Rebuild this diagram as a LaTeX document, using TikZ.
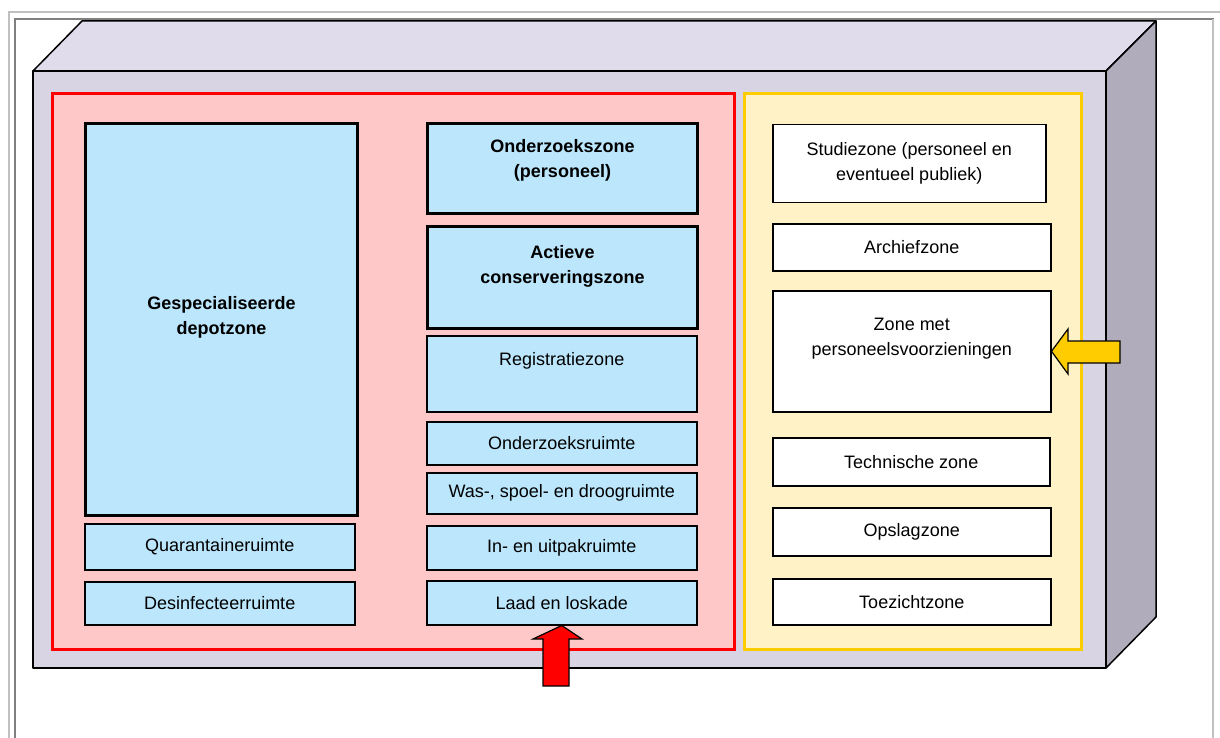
\documentclass[tikz,border=0pt]{standalone}
\usepackage{fontspec}
\setmainfont{Liberation Sans}
\definecolor{frontc}{HTML}{D8D4E4}
\definecolor{topc}{HTML}{E0DCEC}
\definecolor{sidec}{HTML}{B0ACBC}
\definecolor{pinkc}{HTML}{FFC8C8}
\definecolor{yelfill}{HTML}{FFF2C6}
\definecolor{yelline}{HTML}{FFCC00}
\definecolor{bluec}{HTML}{BBE6FC}
\definecolor{lgray}{HTML}{C0C0C0}
\definecolor{dgray}{HTML}{808080}
\begin{document}
\begin{tikzpicture}[x=1pt,y=-1pt,
  font=\fontsize{18}{25}\selectfont,
  face/.style={draw=black,line width=1.5pt,line join=round},
  zonebox/.style={draw=black,line width=1.5pt,fill=bluec,anchor=north west,inner sep=0pt,align=center},
  thickbox/.style={zonebox,line width=3pt,font=\fontsize{18}{25}\selectfont\bfseries},
  whitebox/.style={zonebox,fill=white},
  txt/.style={align=center,inner sep=0pt},
  arrowshape/.style={draw=black,line width=1.2pt,line join=miter}]
\useasboundingbox (0,0) rectangle (1220,738);
% page frame
\draw[lgray,line width=2pt] (9,738) -- (9,12) -- (1220,12);
\draw[dgray,line width=2pt] (15,738) -- (15,19) -- (1214,19);
\draw[lgray,line width=2pt] (1213,19) -- (1213,738);
% cuboid
\filldraw[face,fill=topc] (33,71) -- (82,21) -- (1156,21) -- (1106,71) -- cycle;
\filldraw[face,fill=sidec] (1106,71) -- (1156,21) -- (1156,617) -- (1106,668) -- cycle;
\filldraw[face,fill=frontc] (33,71) rectangle (1106,668);
% zones
\node[draw=red,line width=3pt,fill=pinkc,anchor=north west,minimum width=682pt,minimum height=556pt,inner sep=0pt] (redzone) at (51,92) {};
\node[draw=yelline,line width=3pt,fill=yelfill,anchor=north west,minimum width=337pt,minimum height=556pt,inner sep=0pt] (yelzone) at (743,92) {};
% left column
\node[thickbox,minimum width=272pt,minimum height=392pt] (dep) at (84,122) {};
\node[txt,font=\fontsize{18}{25}\selectfont\bfseries] (deptxt) at ([yshift=2.5pt]dep.center) {Gespecialiseerde\\depotzone};
\node[zonebox,minimum width=270pt,minimum height=46pt] (quar) at (84,523) {Quarantaineruimte};
\node[zonebox,minimum width=270pt,minimum height=43pt] (desinf) at (84,581) {Desinfecteerruimte};
% middle column
\node[thickbox,minimum width=270pt,minimum height=90pt] (ondz) at (426,122) {};
\node[txt,font=\fontsize{18}{25}\selectfont\bfseries] (ondztxt) at ([yshift=8.5pt]ondz.center) {Onderzoekszone\\(personeel)};
\node[thickbox,minimum width=270pt,minimum height=102pt] (act) at (426,225) {};
\node[txt,font=\fontsize{18}{25}\selectfont\bfseries] (acttxt) at ([yshift=11pt]act.center) {Actieve\\conserveringszone};
\node[zonebox,minimum width=270pt,minimum height=76pt] (reg) at (426,335) {};
\node[txt] (regtxt) at ([yshift=13pt]reg.center) {Registratiezone};
\node[zonebox,minimum width=270pt,minimum height=43pt] (ondr) at (426,421) {Onderzoeksruimte};
\node[zonebox,minimum width=270pt,minimum height=41pt] (was) at (426,472) {Was-, spoel- en droogruimte};
\node[zonebox,minimum width=270pt,minimum height=44pt] (inuit) at (426,525) {In- en uitpakruimte};
\node[zonebox,minimum width=270pt,minimum height=44pt] (laad) at (426,580) {Laad en loskade};
% right column
\node[whitebox,minimum width=273pt,minimum height=78pt] (stud) at (772,124) {Studiezone (personeel en\\eventueel publiek)};
\node[whitebox,minimum width=278pt,minimum height=47pt] (arch) at (772,223) {Archiefzone};
\node[whitebox,minimum width=278pt,minimum height=121pt] (pers) at (772,290) {};
\node[txt] (perstxt) at ([yshift=13pt]pers.center) {Zone met\\personeelsvoorzieningen};
\node[whitebox,minimum width=277pt,minimum height=48pt] (tech) at (772,437) {Technische zone};
\node[whitebox,minimum width=278pt,minimum height=48pt] (opsl) at (772,507) {Opslagzone};
\node[whitebox,minimum width=278pt,minimum height=46pt] (toez) at (772,578) {Toezichtzone};
% arrows
\coordinate (redtail) at (556,686);
\filldraw[arrowshape,fill=red] (laad.south) -- (582,639) -- (569,639) -- (569,686) -- (543,686) -- (543,639) -- (533,639) -- cycle;
\filldraw[arrowshape,fill=yelline] (pers.east) -- (1068,329) -- (1068,341) -- (1120,341) -- (1120,363) -- (1068,363) -- (1068,374) -- cycle;
\end{tikzpicture}
\end{document}
